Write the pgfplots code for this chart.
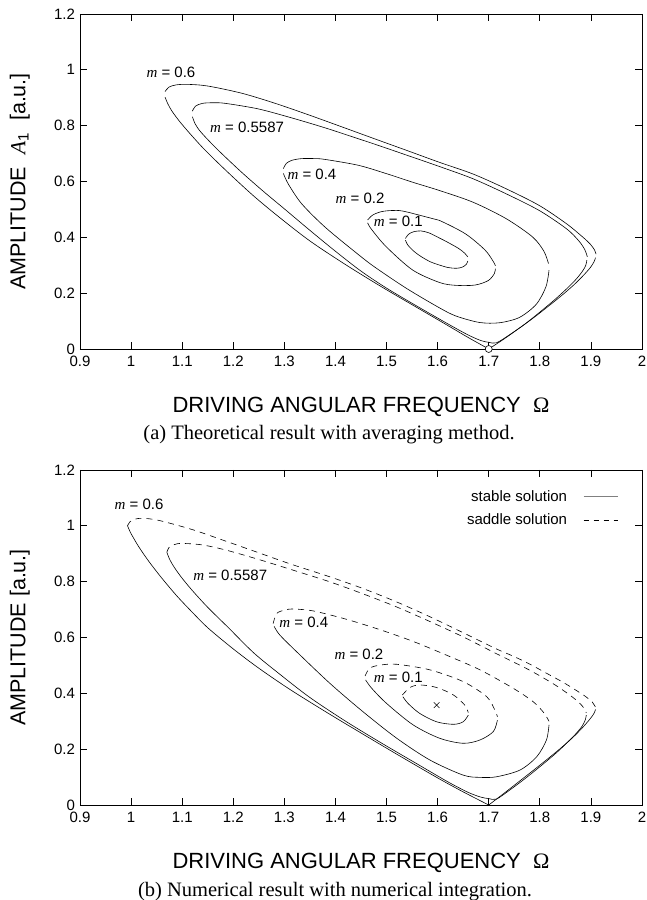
\documentclass[border=0pt]{standalone}
\usepackage{pgfplots}
\pgfplotsset{compat=1.18}
\usepackage{fontspec}
\setmainfont{Liberation Sans}
\newfontfamily\capfont{Liberation Serif}
\newcommand{\mm}{{\capfont\itshape m}}
\tikzset{
  ann/.style={font=\fontsize{15bp}{18bp}\selectfont, inner sep=0pt},
  sad/.style={dash pattern=on 6bp off 5bp},
}
\begin{document}
\begin{tikzpicture}[x=1bp,y=1bp]
\pgfplotsset{
  myax/.style={
    scale only axis, width=562bp, height=335bp,
    xmin=0.9, xmax=2, ymin=0, ymax=1.2, clip=false,
    xtick={0.9,1,1.1,1.2,1.3,1.4,1.5,1.6,1.7,1.8,1.9,2},
    ytick={0,0.2,0.4,0.6,0.8,1,1.2},
    tick align=inside, major tick length=7bp,
    axis line style={line width=0.8pt},
    every tick/.style={black, line width=0.8pt},
    tick label style={font=\fontsize{15bp}{18bp}\selectfont},
    xticklabel style={yshift=-4bp},
    yticklabel style={xshift=-1.5bp},
    /pgf/number format/assume math mode=true,
    every axis x label/.style={at={(axis description cs:0.5,-0.172)}, anchor=center, font=\fontsize{22bp}{24bp}\selectfont},
    every axis y label/.style={at={(axis description cs:-0.107,0.5)}, rotate=90, anchor=center, font=\fontsize{21.5bp}{24bp}\selectfont},
    xlabel={DRIVING ANGULAR FREQUENCY\ \ {\capfont Ω}},
    cycle list={{black,mark=none}},
    every axis plot/.append style={black, line width=0.6pt, smooth, tension=0.5},
  },
}
% ---------------- top chart ----------------
\begin{axis}[myax, at={(0,456bp)}, anchor=south west,
  ylabel={AMPLITUDE\ \ {\capfont\itshape A}\textsubscript{1}\ \ [a.u.]}]
% m = 0.6
\addplot coordinates {(1.0665,0.922) (1.074,0.938) (1.088,0.946) (1.11,0.948) (1.15,0.942) (1.217,0.916) (1.282,0.880) (1.347,0.839) (1.412,0.796) (1.478,0.752) (1.54,0.711) (1.603,0.669) (1.669,0.627) (1.734,0.574) (1.799,0.514) (1.852,0.449) (1.884,0.401) (1.899,0.375) (1.907,0.355) (1.910,0.340)};
\addplot coordinates {(1.0665,0.902) (1.072,0.878) (1.08,0.852) (1.095,0.815) (1.115,0.772) (1.145,0.712) (1.19,0.632) (1.24,0.548) (1.29,0.472) (1.35,0.387) (1.42,0.302) (1.49,0.223) (1.56,0.148) (1.62,0.084) (1.66,0.041) (1.70,0.0)};
\addplot coordinates {(1.70,0.0) (1.73,0.036) (1.76,0.075) (1.79,0.115) (1.82,0.158) (1.845,0.195) (1.868,0.232) (1.886,0.265) (1.899,0.292) (1.906,0.312) (1.909,0.327)};
% m = 0.5587
\addplot coordinates {(1.120,0.852) (1.126,0.870) (1.14,0.880) (1.16,0.882) (1.184,0.880) (1.249,0.860) (1.314,0.828) (1.380,0.792) (1.445,0.753) (1.478,0.733) (1.54,0.694) (1.603,0.654) (1.669,0.610) (1.734,0.556) (1.799,0.496) (1.852,0.431) (1.876,0.388) (1.888,0.356) (1.893,0.330)};
\addplot coordinates {(1.120,0.832) (1.125,0.808) (1.133,0.785) (1.145,0.760) (1.165,0.722) (1.19,0.678) (1.22,0.627) (1.26,0.563) (1.30,0.502) (1.35,0.425) (1.40,0.350) (1.45,0.279) (1.50,0.218) (1.56,0.153) (1.62,0.090) (1.66,0.050) (1.685,0.030) (1.70,0.024) (1.715,0.022) (1.74,0.050) (1.77,0.088) (1.80,0.132) (1.83,0.178) (1.855,0.220) (1.872,0.252) (1.884,0.280) (1.890,0.300) (1.892,0.318)};
% m = 0.4
\addplot coordinates {(1.298,0.646) (1.304,0.665) (1.315,0.676) (1.334,0.682) (1.36,0.682) (1.38,0.679) (1.445,0.658) (1.5,0.628) (1.55,0.598) (1.603,0.568) (1.669,0.526) (1.734,0.467) (1.786,0.401) (1.808,0.350) (1.817,0.306)};
\addplot coordinates {(1.298,0.629) (1.308,0.590) (1.334,0.520) (1.380,0.436) (1.445,0.338) (1.478,0.292) (1.54,0.216) (1.603,0.148) (1.636,0.118) (1.682,0.095) (1.721,0.094) (1.760,0.113) (1.793,0.160) (1.812,0.223) (1.818,0.282)};
% m = 0.2
\addplot coordinates {(1.463,0.462) (1.473,0.480) (1.49,0.492) (1.51,0.496) (1.532,0.494) (1.584,0.470) (1.603,0.461) (1.654,0.413) (1.693,0.354) (1.710,0.310) (1.713,0.298)};
\addplot coordinates {(1.463,0.452) (1.470,0.430) (1.499,0.367) (1.551,0.283) (1.604,0.238) (1.636,0.228) (1.673,0.229) (1.699,0.245) (1.711,0.270) (1.713,0.288)};
% m = 0.1
\addplot coordinates {(1.537,0.396) (1.543,0.411) (1.553,0.420) (1.567,0.423) (1.583,0.416) (1.603,0.398) (1.622,0.380) (1.642,0.359) (1.653,0.343) (1.659,0.330)};
\addplot coordinates {(1.537,0.390) (1.541,0.374) (1.551,0.354) (1.566,0.333) (1.585,0.313) (1.603,0.301) (1.62,0.292) (1.636,0.289) (1.648,0.293) (1.656,0.303) (1.659,0.315)};
\addplot[only marks, mark=*, mark size=3.5bp, mark options={fill=white, draw=black, line width=0.6pt}] coordinates {(1.7,0)};
\node[ann] at (axis cs:1.078,0.992) {\mm\ = 0.6};
\node[ann] at (axis cs:1.227,0.795) {\mm\ = 0.5587};
\node[ann] at (axis cs:1.354,0.627) {\mm\ = 0.4};
\node[ann] at (axis cs:1.448,0.540) {\mm\ = 0.2};
\node[ann] at (axis cs:1.523,0.456) {\mm\ = 0.1};
\end{axis}
% ---------------- bottom chart ----------------
\begin{axis}[myax, at={(0,0)}, anchor=south west,
  ylabel={AMPLITUDE [a.u.]},
  legend style={draw=none, fill=none, at={(axis description cs:0.958,0.945)}, anchor=north east,
    font=\fontsize{15bp}{18bp}\selectfont, row sep=7bp, inner sep=0pt},
  legend plot pos=right, legend cell align=right,
  legend image code/.code={\path (0bp,0bp); \draw[#1] (14bp,0bp) -- (48bp,0bp);}]
\addlegendimage{gray, line width=1.1pt, sharp plot}
\addlegendentry{stable solution}
\addlegendimage{black, line width=0.6pt, sharp plot, dash pattern=on 5bp off 5bp}
\addlegendentry{saddle solution}
% m = 0.6
\addplot[sad] coordinates {(0.993,1.000) (0.998,1.015) (1.008,1.024) (1.022,1.027) (1.053,1.020) (1.119,0.987) (1.184,0.946) (1.249,0.904) (1.314,0.862) (1.388,0.818) (1.453,0.776) (1.519,0.728) (1.584,0.675) (1.649,0.618) (1.714,0.560) (1.748,0.533) (1.780,0.505) (1.813,0.472) (1.845,0.440) (1.870,0.412) (1.890,0.388) (1.903,0.368) (1.909,0.350)};
\addplot coordinates {(0.993,1.000) (1.000,0.972) (1.015,0.925) (1.035,0.872) (1.06,0.813) (1.09,0.748) (1.12,0.690) (1.15,0.635) (1.20,0.559) (1.25,0.490) (1.31,0.415) (1.38,0.335) (1.45,0.258) (1.52,0.182) (1.60,0.097) (1.65,0.047) (1.70,0.0)};
\addplot coordinates {(1.70,0.0) (1.73,0.042) (1.76,0.085) (1.79,0.128) (1.82,0.172) (1.845,0.210) (1.868,0.248) (1.886,0.282) (1.899,0.310) (1.906,0.328) (1.909,0.342)};
% m = 0.5587
\addplot[sad] coordinates {(1.070,0.905) (1.074,0.922) (1.085,0.933) (1.099,0.937) (1.138,0.932) (1.184,0.914) (1.249,0.880) (1.314,0.843) (1.388,0.800) (1.453,0.757) (1.519,0.710) (1.584,0.658) (1.649,0.603) (1.714,0.543) (1.780,0.483) (1.83,0.43) (1.865,0.385) (1.883,0.355) (1.891,0.330)};
\addplot coordinates {(1.070,0.905) (1.076,0.878) (1.085,0.850) (1.10,0.812) (1.12,0.768) (1.15,0.708) (1.19,0.636) (1.24,0.545) (1.29,0.470) (1.35,0.385) (1.42,0.300) (1.49,0.222) (1.56,0.147) (1.62,0.083) (1.66,0.045) (1.685,0.028) (1.70,0.023) (1.715,0.021) (1.74,0.052) (1.77,0.093) (1.80,0.137) (1.83,0.183) (1.855,0.226) (1.871,0.256) (1.883,0.283) (1.889,0.305) (1.891,0.322)};
% m = 0.4
\addplot[sad] coordinates {(1.278,0.650) (1.285,0.686) (1.30,0.698) (1.317,0.702) (1.357,0.695) (1.422,0.665) (1.487,0.628) (1.552,0.586) (1.617,0.537) (1.683,0.484) (1.748,0.418) (1.787,0.370) (1.808,0.330) (1.818,0.300)};
\addplot coordinates {(1.818,0.287) (1.813,0.233) (1.794,0.173) (1.761,0.125) (1.715,0.101) (1.683,0.099) (1.650,0.107) (1.585,0.161) (1.520,0.239) (1.454,0.334) (1.389,0.436) (1.324,0.549) (1.291,0.609) (1.280,0.640)};
% m = 0.2
\addplot[sad] coordinates {(1.458,0.462) (1.467,0.490) (1.487,0.501) (1.520,0.504) (1.585,0.484) (1.650,0.442) (1.696,0.388) (1.712,0.340) (1.717,0.316)};
\addplot coordinates {(1.717,0.304) (1.709,0.263) (1.683,0.233) (1.650,0.221) (1.604,0.239) (1.552,0.287) (1.500,0.364) (1.471,0.418) (1.459,0.448)};
% m = 0.1
\addplot[sad] coordinates {(1.531,0.394) (1.546,0.421) (1.565,0.430) (1.598,0.421) (1.631,0.394) (1.653,0.358) (1.660,0.331)};
\addplot coordinates {(1.660,0.322) (1.650,0.298) (1.631,0.289) (1.598,0.298) (1.565,0.328) (1.542,0.364) (1.532,0.388)};
\addplot[only marks, mark=x, mark size=4bp, mark options={line width=0.6pt}] coordinates {(1.598,0.358)};
\node[ann] at (axis cs:1.0155,1.078) {\mm\ = 0.6};
\node[ann] at (axis cs:1.194,0.824) {\mm\ = 0.5587};
\node[ann] at (axis cs:1.338,0.653) {\mm\ = 0.4};
\node[ann] at (axis cs:1.446,0.541) {\mm\ = 0.2};
\node[ann] at (axis cs:1.523,0.458) {\mm\ = 0.1};
\end{axis}
\node[font=\capfont\fontsize{20.5bp}{24bp}\selectfont, anchor=base] at (249bp,365bp) {(a) Theoretical result with averaging method.};
\node[font=\capfont\fontsize{20.5bp}{24bp}\selectfont, anchor=base] at (255bp,-91bp) {(b) Numerical result with numerical integration.};
\pgfresetboundingbox
\path[use as bounding box] (-80bp,-95bp) rectangle (567bp,805bp);
\end{tikzpicture}
\end{document}
